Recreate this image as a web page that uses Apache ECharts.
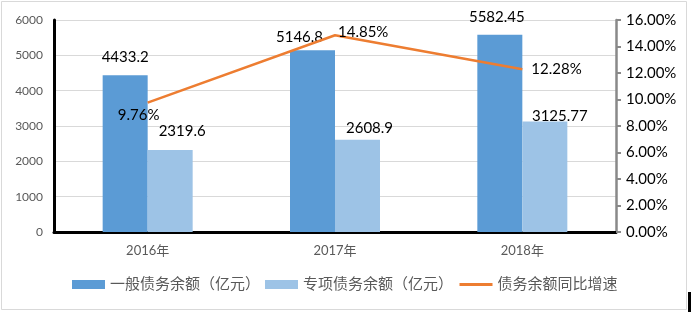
<!DOCTYPE html>
<html>
<head>
<meta charset="utf-8">
<script src="https://cdn.jsdelivr.net/npm/echarts@6/dist/echarts.min.js"></script>
<style>
html,body{margin:0;padding:0;background:#fff;}
#c{width:691px;height:312px;}
</style>
</head>
<body>
<div id="c"></div>
<script>
var categories = ['2016年', '2017年', '2018年'];
var generalDebt = [4433.2, 5146.8, 5582.45];
var specialDebt = [2319.6, 2608.9, 3125.77];
var growthRate = [9.76, 14.85, 12.28];
var seriesNames = ['一般债务余额（亿元）', '专项债务余额（亿元）', '债务余额同比增速'];

// label nudges (style only)
var generalLabelOffsets = [[0, -6], [-13, 0], [-3, -5]];
var specialLabelOffsets = [[12, -6], [12, 1], [15, 7]];
var rateLabelOffsets = [[-9, 0], [-2, -3], [4, 0]];
var ratePositions = ['bottom', 'right', 'right'];

var numFont = 'Lato, "Liberation Sans", sans-serif';
var cjkFont = 'Lato, "Noto Sans CJK SC", sans-serif';

function barData(vals, offs) {
  return vals.map(function (v, i) {
    return { value: v, label: { offset: offs[i] } };
  });
}
function lineData(vals, offs, pos) {
  return vals.map(function (v, i) {
    return { value: v, label: { offset: offs[i], position: pos[i] } };
  });
}

var chart = echarts.init(document.getElementById('c'), null, { renderer: 'canvas' });
chart.setOption({
  animation: false,
  backgroundColor: '#fff',
  grid: { left: 54, right: 75, top: 20, bottom: 80, containLabel: false },
  legend: {
    left: 72, top: 277, padding: 0,
    itemWidth: 33, itemHeight: 9, itemGap: 5,
    textStyle: { fontSize: 15, color: '#595959', fontFamily: cjkFont },
    data: [
      { name: seriesNames[0], icon: 'rect' },
      { name: seriesNames[1], icon: 'rect' },
      { name: seriesNames[2], itemStyle: { opacity: 0, borderWidth: 0 }, lineStyle: { width: 3 } }
    ]
  },
  xAxis: {
    type: 'category',
    data: categories,
    axisLine: { lineStyle: { color: '#000', width: 3 } },
    axisTick: { show: false },
    axisLabel: { color: '#595959', fontSize: 13, margin: 12, fontFamily: cjkFont }
  },
  yAxis: [
    {
      type: 'value', min: 0, max: 6000, interval: 1000,
      axisLine: { show: true, lineStyle: { color: '#000', width: 3 } },
      axisTick: { show: false },
      axisLabel: { color: '#595959', fontSize: 12, margin: 11, fontFamily: numFont,
        formatter: function (v) { return String(v); } },
      splitLine: { lineStyle: { color: '#D9D9D9', width: 1 } }
    },
    {
      type: 'value', min: 0, max: 16, interval: 2, position: 'right',
      axisLine: { show: true, lineStyle: { color: '#898989', width: 2.5 } },
      axisTick: { show: true, inside: false, length: 5, lineStyle: { color: '#898989', width: 2 } },
      axisLabel: {
        color: '#000', fontSize: 15, margin: 10, fontFamily: numFont,
        formatter: function (v) { return v.toFixed(2) + '%'; }
      },
      splitLine: { show: false }
    }
  ],
  series: [
    {
      name: seriesNames[0], type: 'bar', barWidth: 45, barGap: '0%',
      itemStyle: { color: '#5B9BD5' },
      label: { show: true, position: 'top', distance: 5, color: '#000', fontSize: 15, fontFamily: numFont },
      data: barData(generalDebt, generalLabelOffsets)
    },
    {
      name: seriesNames[1], type: 'bar', barWidth: 45, barGap: '0%',
      itemStyle: { color: '#9DC3E6' },
      label: { show: true, position: 'top', distance: 5, color: '#000', fontSize: 15, fontFamily: numFont },
      data: barData(specialDebt, specialLabelOffsets)
    },
    {
      name: seriesNames[2], type: 'line', yAxisIndex: 1,
      symbol: 'circle', symbolSize: 0, showSymbol: true,
      lineStyle: { color: '#ED7D31', width: 2.5 },
      itemStyle: { color: '#ED7D31' },
      label: {
        show: true, color: '#000', fontSize: 15, fontFamily: numFont, distance: 5,
        formatter: function (p) { return p.value + '%'; }
      },
      data: lineData(growthRate, rateLabelOffsets, ratePositions)
    }
  ],
  graphic: [
    { type: 'rect', shape: { x: 1.5, y: 1.5, width: 685, height: 308 }, style: { fill: 'none', stroke: '#D9D9D9', lineWidth: 1 }, silent: true },
    { type: 'rect', shape: { x: 688, y: 292, width: 3, height: 20 }, style: { fill: '#000' }, silent: true }
  ]
});
</script>
</body>
</html>
